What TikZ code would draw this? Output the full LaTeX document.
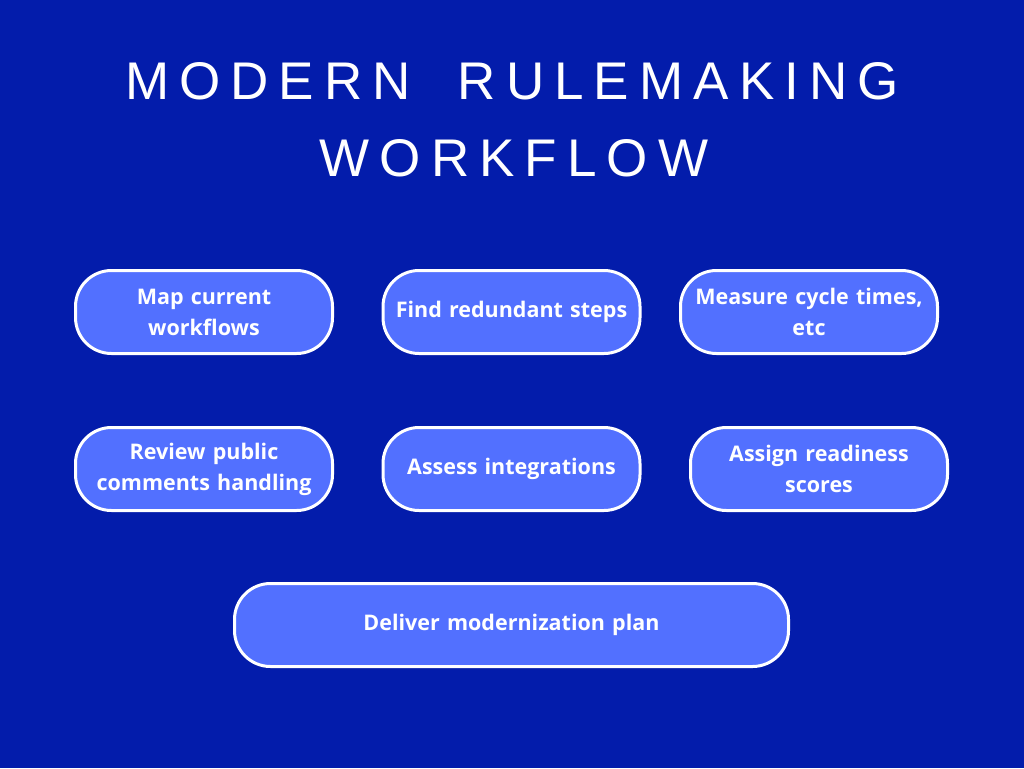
\documentclass[tikz,border=0pt]{standalone}
\usepackage{fontspec}
\setmainfont{Open Sans}
\newfontfamily\titlefont[LetterSpace=19]{Liberation Sans}
\definecolor{bg}{RGB}{3,28,171}
\definecolor{boxfill}{RGB}{82,112,255}
\begin{document}
\begin{tikzpicture}[x=1pt,y=-1pt,
  stepbox/.style={draw=white, line width=3pt, fill=boxfill, rounded corners=36pt,
    minimum width=257pt, minimum height=83pt, text width=250pt, align=center,
    text=white, font=\fontsize{21.5}{31}\selectfont\bfseries, inner sep=0pt},
  titletext/.style={text=white, font=\titlefont\fontsize{53}{60}\selectfont, inner sep=0pt}]
\fill[bg] (0,0) rectangle (1024,768);
\useasboundingbox (0,0) rectangle (1024,768);
\node[titletext] (t1) at (512,81) {MODERN\hspace{22pt} RULEMAKING};
\node[titletext] (t2) at (514,158) {WORKFLOW};
\node[stepbox] (b1) at (204,312) {Map current\\workflows};
\node[stepbox] (b2) at (511.5,312) {Find redundant steps};
\node[stepbox] (b3) at (809,312) {Measure cycle times,\\etc};
\node[stepbox] (b4) at (204,469) {Review public\\comments handling};
\node[stepbox] (b5) at (511.5,469) {Assess integrations};
\node[stepbox] (b6) at (819,469) {Assign readiness\\scores};
\node[stepbox, minimum width=554pt, text width=540pt] (b7) at (511.5,625) {Deliver modernization plan};
\end{tikzpicture}
\end{document}
